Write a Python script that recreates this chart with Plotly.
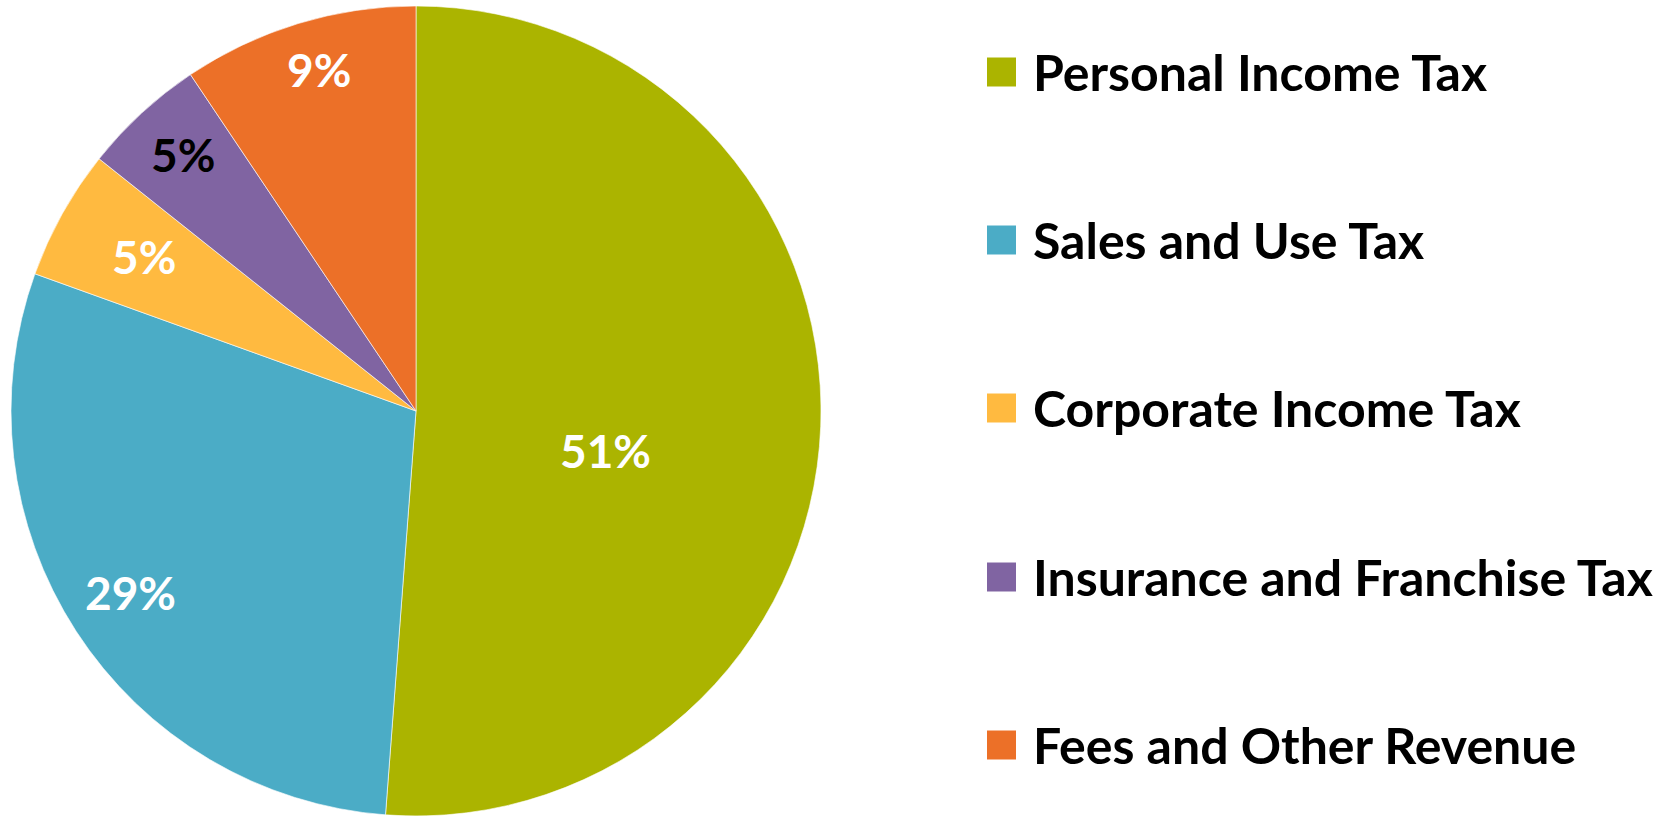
import math
import plotly.graph_objects as go

labels = ["Personal Income Tax", "Sales and Use Tax", "Corporate Income Tax",
          "Insurance and Franchise Tax", "Fees and Other Revenue"]
values = [51.2, 29.3, 5.2, 4.9, 9.4]
colors = ["#ABB400", "#4BACC6", "#FFBA40", "#8064A2", "#EC7028"]
text_colors = ["white", "white", "white", "black", "white"]

# label placement style (radial fraction, angular offset in degrees)
label_r = [0.48, 0.84, 0.77, 0.85, 0.87]
label_dang = [10.5, 0, 0, 0, 1.0]

W, H = 1674, 816
FONT = "Lato"
CX, CY, R = 416, 411, 405  # pie centre / radius in pixels

fig = go.Figure()
fig.add_trace(go.Pie(
    labels=labels, values=values, sort=False, direction="clockwise", rotation=0,
    marker=dict(colors=colors, line=dict(color="rgba(255,255,255,0.6)", width=1)),
    textinfo="none",
    showlegend=False, hoverinfo="label+percent",
    domain=dict(x=[(CX - R) / W, (CX + R) / W], y=[1 - (CY + R) / H, 1 - (CY - R) / H]),
))

# percentage labels computed from the values
total = sum(values)
cum = 0.0
for v, tc, rf, da in zip(values, text_colors, label_r, label_dang):
    mid = (cum + v / 2) / total * 360 + da
    cum += v
    a = math.radians(mid)
    px = CX + rf * R * math.sin(a)
    py = CY - rf * R * math.cos(a) - 3
    fig.add_annotation(text=f"{round(v / total * 100)}%", xref="paper", yref="paper",
                       x=px / W, y=1 - py / H, xanchor="center", yanchor="middle",
                       showarrow=False,
                       font=dict(family=FONT, size=46, color=tc, weight="bold"))

# manual legend
row_y = [72, 240, 408, 577, 745]
sq = 29
for lab, col, yc in zip(labels, colors, row_y):
    fig.add_shape(type="rect", xref="paper", yref="paper",
                  x0=987 / W, x1=(987 + sq) / W,
                  y0=1 - (yc + sq / 2) / H, y1=1 - (yc - sq / 2) / H,
                  fillcolor=col, line=dict(width=0))
    fig.add_annotation(text=lab, xref="paper", yref="paper",
                       x=1031 / W, y=1 - yc / H, xanchor="left", yanchor="middle",
                       showarrow=False,
                       font=dict(family=FONT, size=50, color="black", weight="bold"))

fig.update_layout(width=W, height=H, margin=dict(l=0, r=0, t=0, b=0),
                  paper_bgcolor="white", plot_bgcolor="white")
fig.write_html("out.html", post_script="document.body.style.margin='0';",
               config={"displayModeBar": False})
